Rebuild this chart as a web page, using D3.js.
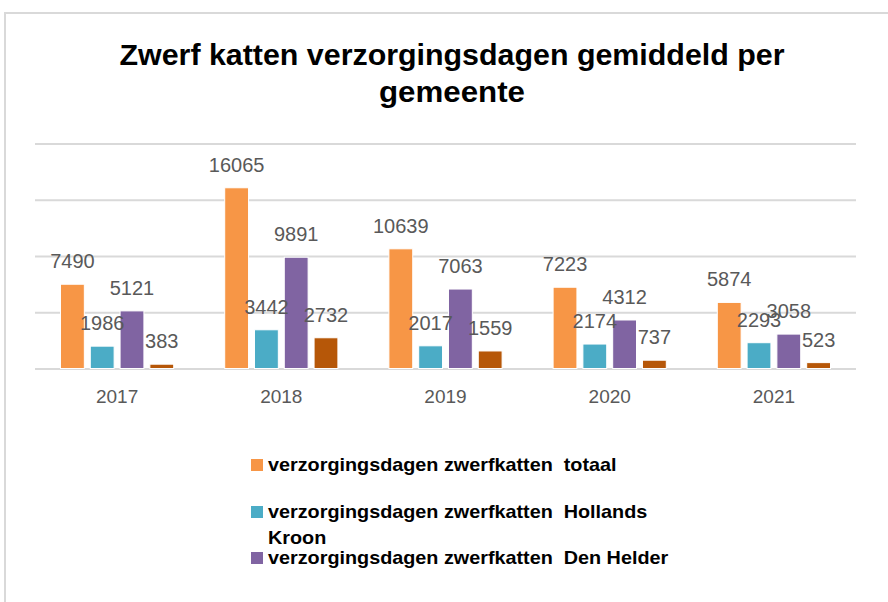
<!DOCTYPE html>
<html>
<head>
<meta charset="utf-8">
<script src="https://cdn.jsdelivr.net/npm/d3@7"></script>
<style>
body { margin:0; background:#fff; }
svg text { font-family: "Liberation Sans", Arial, sans-serif; }
</style>
</head>
<body>
<svg id="chart" width="888" height="602"></svg>
<script>
// data
var years = ["2017", "2018", "2019", "2020", "2021"];
var series = ["totaal", "Hollands Kroon", "Den Helder", "overig"];
var totaal = [7490, 16065, 10639, 7223, 5874];
var hollandsKroon = [1986, 3442, 2017, 2174, 2293];
var denHelder = [5121, 9891, 7063, 4312, 3058];
var overig = [383, 2732, 1559, 737, 523];
var colors = ["#f79646", "#4bacc6", "#8064a2", "#b65708"];
var yTicks = [0, 5000, 10000, 15000, 20000];
var legendLabels = [
	["verzorgingsdagen zwerfkatten  totaal"],
	["verzorgingsdagen zwerfkatten  Hollands", "Kroon"],
	["verzorgingsdagen zwerfkatten  Den Helder"]
];

var values = [totaal, hollandsKroon, denHelder, overig];

var svg = d3.select("#chart");

// outer frame
svg.append("rect")
	.attr("x", 5).attr("y", 13)
	.attr("width", 900).attr("height", 620)
	.attr("fill", "none")
	.attr("stroke", "#d9d9d9")
	.attr("stroke-width", 2);

// title
svg.append("text")
	.attr("x", 452).attr("y", 65)
	.attr("text-anchor", "middle")
	.attr("font-size", 29).attr("font-weight", "bold")
	.attr("textLength", 665).attr("lengthAdjust", "spacingAndGlyphs")
	.text("Zwerf katten verzorgingsdagen gemiddeld per");
svg.append("text")
	.attr("x", 452).attr("y", 102)
	.attr("text-anchor", "middle")
	.attr("font-size", 29).attr("font-weight", "bold")
	.attr("textLength", 146).attr("lengthAdjust", "spacingAndGlyphs")
	.text("gemeente");

var plotLeft = 35, plotRight = 856, plotTop = 143.5, plotBottom = 368.5;

var x0 = d3.scaleBand().domain(years).range([plotLeft, plotRight]);
var groupPad = 25.5;
var x1 = d3.scaleBand().domain(series)
	.range([groupPad, x0.bandwidth() - groupPad])
	.paddingInner(0.2);
var y = d3.scaleLinear().domain([0, 20000]).range([plotBottom, plotTop]);

// gridlines
var grid = svg.append("g")
	.attr("transform", "translate(" + plotLeft + ",0)")
	.call(d3.axisLeft(y).tickValues(yTicks).tickSize(-(plotRight - plotLeft)).tickFormat(""));
grid.select(".domain").remove();
grid.selectAll("line").attr("stroke", "#d9d9d9").attr("stroke-width", 2);

// bars
var groups = svg.selectAll("g.year")
	.data(years)
	.enter().append("g")
	.attr("class", "year")
	.attr("transform", function(d) { return "translate(" + x0(d) + ",0)"; });

groups.each(function(yr, i) {
	var g = d3.select(this);
	var rows = series.map(function(s, k) { return {s: s, v: values[k][i], k: k}; });
	g.selectAll("rect")
		.data(rows)
		.enter().append("rect")
		.attr("x", function(d) { return x1(d.s); })
		.attr("y", function(d) { return y(d.v); })
		.attr("width", x1.bandwidth())
		.attr("height", function(d) { return plotBottom - y(d.v); })
		.attr("fill", function(d) { return colors[d.k]; })
		.attr("stroke", "#fff")
		.attr("stroke-width", 1);
	g.selectAll("text.lbl")
		.data(rows)
		.enter().append("text")
		.attr("class", "lbl")
		.attr("x", function(d) { return x1(d.s) + x1.bandwidth() / 2; })
		.attr("y", function(d) { return y(d.v) - 16; })
		.attr("text-anchor", "middle")
		.attr("font-size", 20)
		.attr("fill", "#595959")
		.text(function(d) { return d.v; });
});

// x axis labels
var xa = svg.append("g")
	.attr("transform", "translate(0," + plotBottom + ")")
	.call(d3.axisBottom(x0).tickSize(0).tickPadding(21));
xa.select(".domain").remove();
xa.selectAll("text")
	.attr("font-size", 19)
	.attr("fill", "#595959")
	.style("font-family", "Liberation Sans, Arial, sans-serif");

// legend
var legendY = [465, 512, 558];
var legend = svg.selectAll("g.legend")
	.data(legendLabels)
	.enter().append("g")
	.attr("class", "legend")
	.attr("transform", function(d, i) { return "translate(251," + legendY[i] + ")"; });
legend.append("rect")
	.attr("x", 0).attr("y", -6)
	.attr("width", 12).attr("height", 12)
	.attr("fill", function(d, i) { return colors[i]; });
legend.each(function(lines) {
	var g = d3.select(this).append("g")
		.attr("transform", "translate(17,0) scale(1.1,1)");
	lines.forEach(function(t, j) {
		g.append("text")
			.attr("x", 0).attr("y", 6 + j * 26)
			.attr("font-size", 18).attr("font-weight", "bold")
			.attr("fill", "#000")
			.style("white-space", "pre")
			.text(t);
	});
});
</script>
</body>
</html>
